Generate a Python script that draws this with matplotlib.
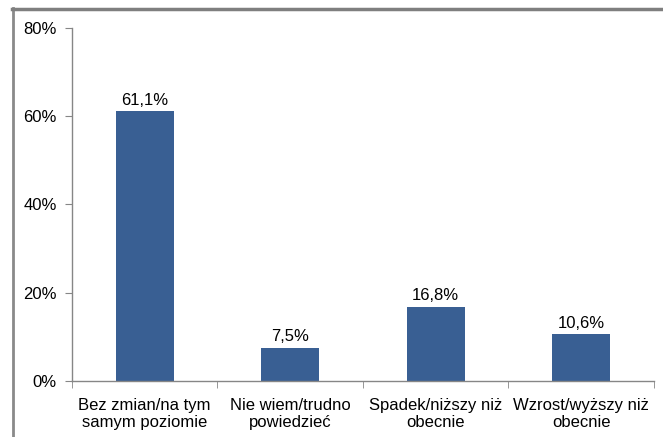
import matplotlib.pyplot as plt
from matplotlib.ticker import FuncFormatter

categories = ["Bez zmian/na tym\nsamym poziomie", "Nie wiem/trudno\npowiedzieć",
              "Spadek/niższy niż\nobecnie", "Wzrost/wyższy niż\nobecnie"]
values = [61.1, 7.5, 16.8, 10.6]
value_labels = ["61,1%", "7,5%", "16,8%", "10,6%"]
yticks = [0, 20, 40, 60, 80]

plt.rcParams['font.family'] = ['Liberation Sans', 'DejaVu Sans']
plt.rcParams['font.size'] = 12

fig = plt.figure(figsize=(6.63, 4.37), dpi=100)

# outer chart frame, drawn in pixel units (runs past right/bottom edges)
bg = fig.add_axes([0, 0, 1, 1], zorder=-1)
bg.set_xlim(0, 663)
bg.set_ylim(437, 0)
bg.axis("off")
bg.plot([12.5, 12.5], [437, 8], color="#8a8a8a", lw=2, clip_on=False)
bg.plot([12, 663], [8.5, 8.5], color="#7f7f7f", lw=2.5, clip_on=False)

ax = fig.add_axes([0.1086, 0.1281, 0.8778, 0.8079])
ax.patch.set_alpha(0)

bar_color = "#395f93"
x = range(len(categories))
ax.bar(x, values, width=0.4, color=bar_color)
for i, (v, lab) in enumerate(zip(values, value_labels)):
    ax.annotate(lab, (i, v), xytext=(0, 2.5), textcoords="offset points",
                ha="center", va="bottom", color="black")

ax.set_xlim(-0.5, len(categories) - 0.5)
ax.set_ylim(0, 80)
ax.set_yticks(yticks)
ax.yaxis.set_major_formatter(FuncFormatter(lambda v, p: f"{v:.0f}%"))

ax.set_xticks(x)
ax.set_xticklabels(categories)
ax.set_xticks([i - 0.5 for i in range(len(categories) + 1)], minor=True)
ax.tick_params(axis="x", which="major", length=0, pad=12)
ax.tick_params(axis="x", which="minor", length=5, color="#868686", direction="out")
ax.tick_params(axis="y", length=5, color="#868686", pad=6)

for s in ["top", "right"]:
    ax.spines[s].set_visible(False)
for s in ["left", "bottom"]:
    ax.spines[s].set_color("#868686")
    ax.spines[s].set_linewidth(1.0)

fig.savefig("out.png", dpi=100)
